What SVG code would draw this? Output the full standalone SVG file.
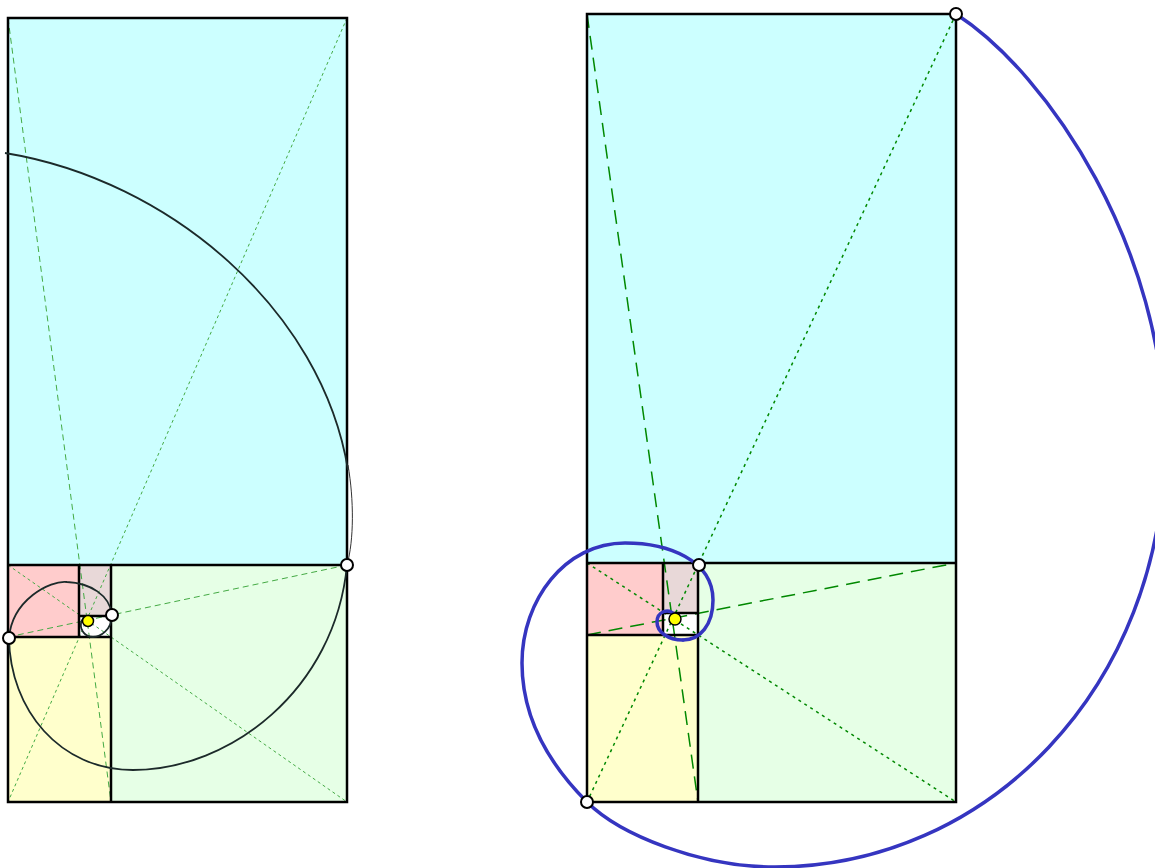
<svg xmlns="http://www.w3.org/2000/svg" width="1155" height="868" viewBox="0 0 1155 868">
<style>
.cy{fill:#ccffff}.gr{fill:#e6ffe6}.ye{fill:#ffffcc}.pk{fill:#ffcccc}.gy{fill:#e8d8d8}.wh{fill:#ffffff}
.bx{fill:none;stroke:#000;stroke-width:2.5}
.lg{stroke:#44aa44;stroke-width:1;fill:none}
.ld{stroke-dasharray:6 4}.lo{stroke-dasharray:3 3}
.rg{stroke:#008800;stroke-width:1.5;fill:none}
.rd{stroke-dasharray:14 8}.ro{stroke-dasharray:3 4}
.pt{fill:#fff;stroke:#000;stroke-width:2}
.ct{fill:#ffff00;stroke:#000;stroke-width:1.5}
.ls{fill:none;stroke:#1c2a2a;stroke-width:1.8}
.rs{fill:none;stroke:#3535c0;stroke-width:3.5;stroke-linecap:round}
</style>
<rect width="1155" height="868" fill="#fff"/>
<g id="left">
  <g id="left-fills">
    <rect class="cy" x="8" y="18" width="339" height="547"/>
    <rect class="gr" x="111" y="565" width="236" height="237"/>
    <rect class="ye" x="8" y="637" width="103" height="165"/>
    <rect class="pk" x="8" y="565" width="71" height="72"/>
    <rect class="gy" x="79" y="565" width="32" height="51"/>
    <rect class="wh" x="79" y="616" width="32" height="21"/>
  </g>
  <g id="left-lines">
    <line class="lg ld" x1="8" y1="18" x2="111" y2="802"/>
    <line class="lg lo" x1="347" y1="18" x2="8" y2="802"/>
    <line class="lg lo" x1="8" y1="565" x2="347" y2="802"/>
    <line class="lg ld" x1="8" y1="637" x2="347" y2="565"/>
  </g>
  <g id="left-boxes">
    <rect class="bx" x="8" y="18" width="339" height="784"/>
    <line class="bx" x1="8" y1="565" x2="347" y2="565"/>
    <line class="bx" x1="111" y1="565" x2="111" y2="802"/>
    <line class="bx" x1="8" y1="637" x2="111" y2="637"/>
    <line class="bx" x1="79" y1="565" x2="79" y2="637"/>
    <line class="bx" x1="79" y1="616" x2="111" y2="616"/>
  </g>
  <g id="left-spiral">
    <path class="ls" d="M5,153 C170,180 322,310 348,470"/>
    <path fill="none" stroke="#333" stroke-width="1" d="M348,465 C354,500 354,540 347,565"/>
    <path class="ls" d="M347,565 C335,690 230,770 133,770 C60,770 10,710 9,638"/>
    <path class="ls" stroke="#3a1a1a" d="M9,638 C12,600 50,580 67,582 C90,583 110,595 112,615"/>
    <path class="ls" d="M112,615 C112,630 100,637 93,637 C85,637 80,630 81,623 C82,618 86,617 88,620"/>
  </g>
  <g id="left-points">
    <circle class="pt" cx="9" cy="638" r="6"/>
    <circle class="pt" cx="112" cy="615" r="6"/>
    <circle class="pt" cx="347" cy="565" r="6"/>
    <circle class="ct" cx="88" cy="621" r="5.5"/>
  </g>
</g>
<g id="right">
  <g id="right-fills">
    <rect class="cy" x="587" y="14" width="369" height="549"/>
    <rect class="gr" x="698" y="563" width="258" height="239"/>
    <rect class="ye" x="587" y="635" width="111" height="167"/>
    <rect class="pk" x="587" y="563" width="76" height="72"/>
    <rect class="gy" x="663" y="563" width="35" height="50"/>
    <rect class="wh" x="663" y="613" width="35" height="22"/>
  </g>
  <g id="right-lines">
    <line class="rg rd" x1="587" y1="14" x2="698" y2="802"/>
    <line class="rg ro" x1="956" y1="14" x2="587" y2="802"/>
    <line class="rg ro" x1="587" y1="563" x2="956" y2="802"/>
    <line class="rg rd" x1="587" y1="635" x2="956" y2="563"/>
  </g>
  <g id="right-boxes">
    <rect class="bx" x="587" y="14" width="369" height="788"/>
    <line class="bx" x1="587" y1="563" x2="956" y2="563"/>
    <line class="bx" x1="698" y1="563" x2="698" y2="802"/>
    <line class="bx" x1="587" y1="635" x2="698" y2="635"/>
    <line class="bx" x1="663" y1="563" x2="663" y2="635"/>
    <line class="bx" x1="663" y1="613" x2="698" y2="613"/>
  </g>
  <g id="right-spiral">
    <path class="rs" d="M956,14 C1050,75 1165,250 1165,440 C1165,690 985,867 775,867 C700,867 620,835 587,802 C545,760 522,715 522,663 C522,600 565,543 625,543 C668,543 713,560 713,600 C713,625 700,640 683,640"/>
    <path class="rs" stroke="#6a3aaa" d="M683,640 C668,640 657,632 657,622 C657,612 668,607 675,615"/>
  </g>
  <g id="right-points">
    <circle class="pt" cx="956" cy="14" r="6"/>
    <circle class="pt" cx="699" cy="565" r="6"/>
    <circle class="pt" cx="587" cy="802" r="6"/>
    <circle class="ct" cx="675" cy="619" r="6"/>
  </g>
</g>
</svg>
